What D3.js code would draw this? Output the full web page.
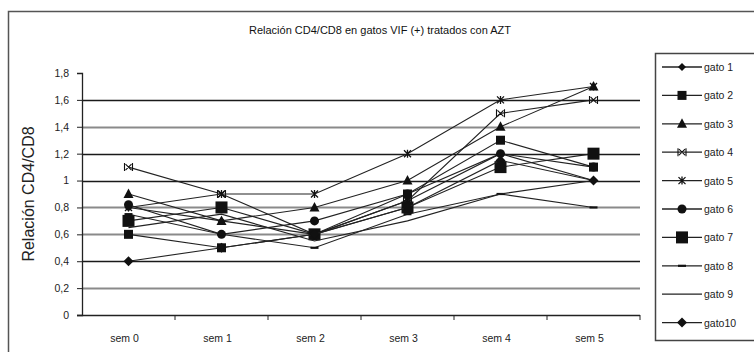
<!DOCTYPE html>
<html>
<head>
<meta charset="utf-8">
<script src="https://cdn.jsdelivr.net/npm/d3@7"></script>
<style>
  html, body { margin: 0; padding: 0; background: #fff; }
  svg { display: block; font-family: "Liberation Sans", Arial, sans-serif; }
</style>
</head>
<body>
<svg id="chart" width="754" height="352"></svg>
<script>
// Weeks of treatment
const weeks = ["sem 0", "sem 1", "sem 2", "sem 3", "sem 4", "sem 5"];
const seriesNames = ["gato 1", "gato 2", "gato 3", "gato 4", "gato 5",
                     "gato 6", "gato 7", "gato 8", "gato 9", "gato10"];
const yTicks = [0, 0.2, 0.4, 0.6, 0.8, 1, 1.2, 1.4, 1.6, 1.8];

// CD4/CD8 ratio per cat and week
const gato1  = [0.80, 0.70, 0.60, 0.85, 1.20, 1.00];
const gato2  = [0.60, 0.50, 0.60, 0.90, 1.30, 1.10];
const gato3  = [0.90, 0.70, 0.80, 1.00, 1.40, 1.70];
const gato4  = [1.10, 0.90, 0.60, 0.85, 1.50, 1.60];
const gato5  = [0.80, 0.90, 0.90, 1.20, 1.60, 1.70];
const gato6  = [0.82, 0.60, 0.70, 0.90, 1.20, 1.10];
const gato7  = [0.70, 0.80, 0.60, 0.80, 1.10, 1.20];
const gato8  = [0.75, 0.60, 0.50, 0.75, 0.90, 0.80];
const gato9  = [0.65, 0.75, 0.55, 0.70, 0.90, 1.00];
const gato10 = [0.40, 0.50, 0.60, 0.80, 1.15, 1.00];
const seriesValues = [gato1, gato2, gato3, gato4, gato5, gato6, gato7, gato8, gato9, gato10];

// marker type for each cat
const markerTypes = ["diamondSmall", "square", "triangle", "cross", "star",
                     "circle", "squareBig", "dash", "none", "diamond"];

const svg = d3.select("#chart");

// outer chart frame
svg.append("rect")
  .attr("x", 8.5).attr("y", 11.5).attr("width", 760).attr("height", 360)
  .attr("fill", "none").attr("stroke", "#555").attr("stroke-width", 1.5);

// title
svg.append("text")
  .attr("x", 380).attr("y", 34)
  .attr("text-anchor", "middle")
  .attr("font-size", 11)
  .attr("fill", "#111")
  .text("Relación CD4/CD8 en gatos VIF (+) tratados con AZT");

const plot = { left: 82, right: 640, top: 73, bottom: 315 };

const x = d3.scaleBand().domain(weeks).range([plot.left, plot.right]);
const y = d3.scaleLinear().domain([0, 1.8]).range([plot.bottom, plot.top]);

// horizontal gridlines
const darkLines = new Set([1.6, 1.2, 1, 0.4]);
svg.append("g").selectAll("line")
  .data(yTicks.filter(t => t > 0 && t < 1.8))
  .join("line")
  .attr("x1", plot.left).attr("x2", plot.right)
  .attr("y1", d => Math.round(y(d)) + 0.5).attr("y2", d => Math.round(y(d)) + 0.5)
  .attr("stroke", d => darkLines.has(d) ? "#1a1a1a" : "#8a8a8a")
  .attr("stroke-width", d => darkLines.has(d) ? 1.4 : 2);

// y axis
const yAxis = svg.append("g")
  .attr("transform", `translate(${plot.left},0)`)
  .call(d3.axisLeft(y).tickValues(yTicks).tickSize(5).tickPadding(8)
    .tickFormat(d => d3.format("")(d).replace(".", ",")));
yAxis.select(".domain").attr("stroke", "#222").attr("stroke-width", 1.3);
yAxis.selectAll(".tick line").attr("stroke", "#222");
yAxis.selectAll("text").attr("font-size", 10.5).attr("fill", "#222")
  .attr("font-family", "Liberation Sans, Arial, sans-serif");

// x axis with ticks between categories
const xAxisG = svg.append("g").attr("transform", `translate(0,${plot.bottom})`);
xAxisG.append("line")
  .attr("x1", plot.left - 5).attr("x2", plot.right)
  .attr("y1", 0.5).attr("y2", 0.5)
  .attr("stroke", "#222").attr("stroke-width", 1.4);
xAxisG.selectAll("line.tk")
  .data(weeks.map(w => x(w)).concat([plot.right]).slice(1))
  .join("line").attr("class", "tk")
  .attr("x1", d => d).attr("x2", d => d)
  .attr("y1", 0).attr("y2", 5)
  .attr("stroke", "#222");
xAxisG.selectAll("text")
  .data(weeks)
  .join("text")
  .attr("x", d => x(d) + x.bandwidth() / 2 - 4)
  .attr("y", 27)
  .attr("text-anchor", "middle")
  .attr("font-size", 10.5).attr("fill", "#222")
  .text(d => d);

// y axis title
svg.append("text")
  .attr("transform", `translate(34,194) rotate(-90)`)
  .attr("text-anchor", "middle")
  .attr("font-size", 16).attr("fill", "#222")
  .text("Relación CD4/CD8");

const cx = w => x(w) + x.bandwidth() / 2;

function drawMarker(g, type, px, py) {
  switch (type) {
    case "diamondSmall":
      g.append("path").attr("d", `M${px},${py-4}L${px+4},${py}L${px},${py+4}L${px-4},${py}Z`).attr("fill", "#111");
      break;
    case "diamond":
      g.append("path").attr("d", `M${px},${py-5}L${px+5},${py}L${px},${py+5}L${px-5},${py}Z`).attr("fill", "#111");
      break;
    case "square":
      g.append("rect").attr("x", px - 4.5).attr("y", py - 4.5).attr("width", 9).attr("height", 9).attr("fill", "#111");
      break;
    case "squareBig":
      g.append("rect").attr("x", px - 6).attr("y", py - 6).attr("width", 12).attr("height", 12).attr("fill", "#111");
      break;
    case "triangle":
      g.append("path").attr("d", `M${px},${py-5.5}L${px+5},${py+4}L${px-5},${py+4}Z`).attr("fill", "#111");
      break;
    case "circle":
      g.append("circle").attr("cx", px).attr("cy", py).attr("r", 4.5).attr("fill", "#111");
      break;
    case "cross":
      g.append("path").attr("d", `M${px-3},${py-3}L${px+3},${py+3}M${px-3},${py+3}L${px+3},${py-3}M${px-4},${py-4}V${py+4}M${px+4},${py-4}V${py+4}`)
        .attr("stroke", "#111").attr("stroke-width", 1.1).attr("fill", "none");
      break;
    case "star":
      g.append("path").attr("d", `M${px-3.5},${py-3.5}L${px+3.5},${py+3.5}M${px-3.5},${py+3.5}L${px+3.5},${py-3.5}M${px},${py-4}V${py+4}`)
        .attr("stroke", "#111").attr("stroke-width", 1.3).attr("fill", "none");
      break;
    case "dash":
      g.append("path").attr("d", `M${px-4},${py}H${px+4}`).attr("stroke", "#111").attr("stroke-width", 2.2);
      break;
  }
}

// series lines and markers
const line = d3.line().x((d, i) => cx(weeks[i])).y(d => y(d));
seriesValues.forEach((vals, si) => {
  const g = svg.append("g");
  g.append("path").datum(vals)
    .attr("d", line)
    .attr("fill", "none")
    .attr("stroke", "#222").attr("stroke-width", 1.1);
  vals.forEach((v, i) => drawMarker(g, markerTypes[si], cx(weeks[i]), y(v)));
});

// legend
const legend = svg.append("g");
legend.append("rect")
  .attr("x", 655.5).attr("y", 53.5).attr("width", 110).attr("height", 287)
  .attr("fill", "#fff").attr("stroke", "#444").attr("stroke-width", 1.5);
seriesNames.forEach((name, i) => {
  const ly = 67 + i * 28.4;
  const g = legend.append("g");
  g.append("line").attr("x1", 662).attr("x2", 702).attr("y1", ly).attr("y2", ly)
    .attr("stroke", "#222").attr("stroke-width", 1.3);
  drawMarker(g, markerTypes[i], 682, ly);
  g.append("text").attr("x", 704).attr("y", ly + 4)
    .attr("font-size", 10.5).attr("fill", "#222").text(name);
});
</script>
</body>
</html>
